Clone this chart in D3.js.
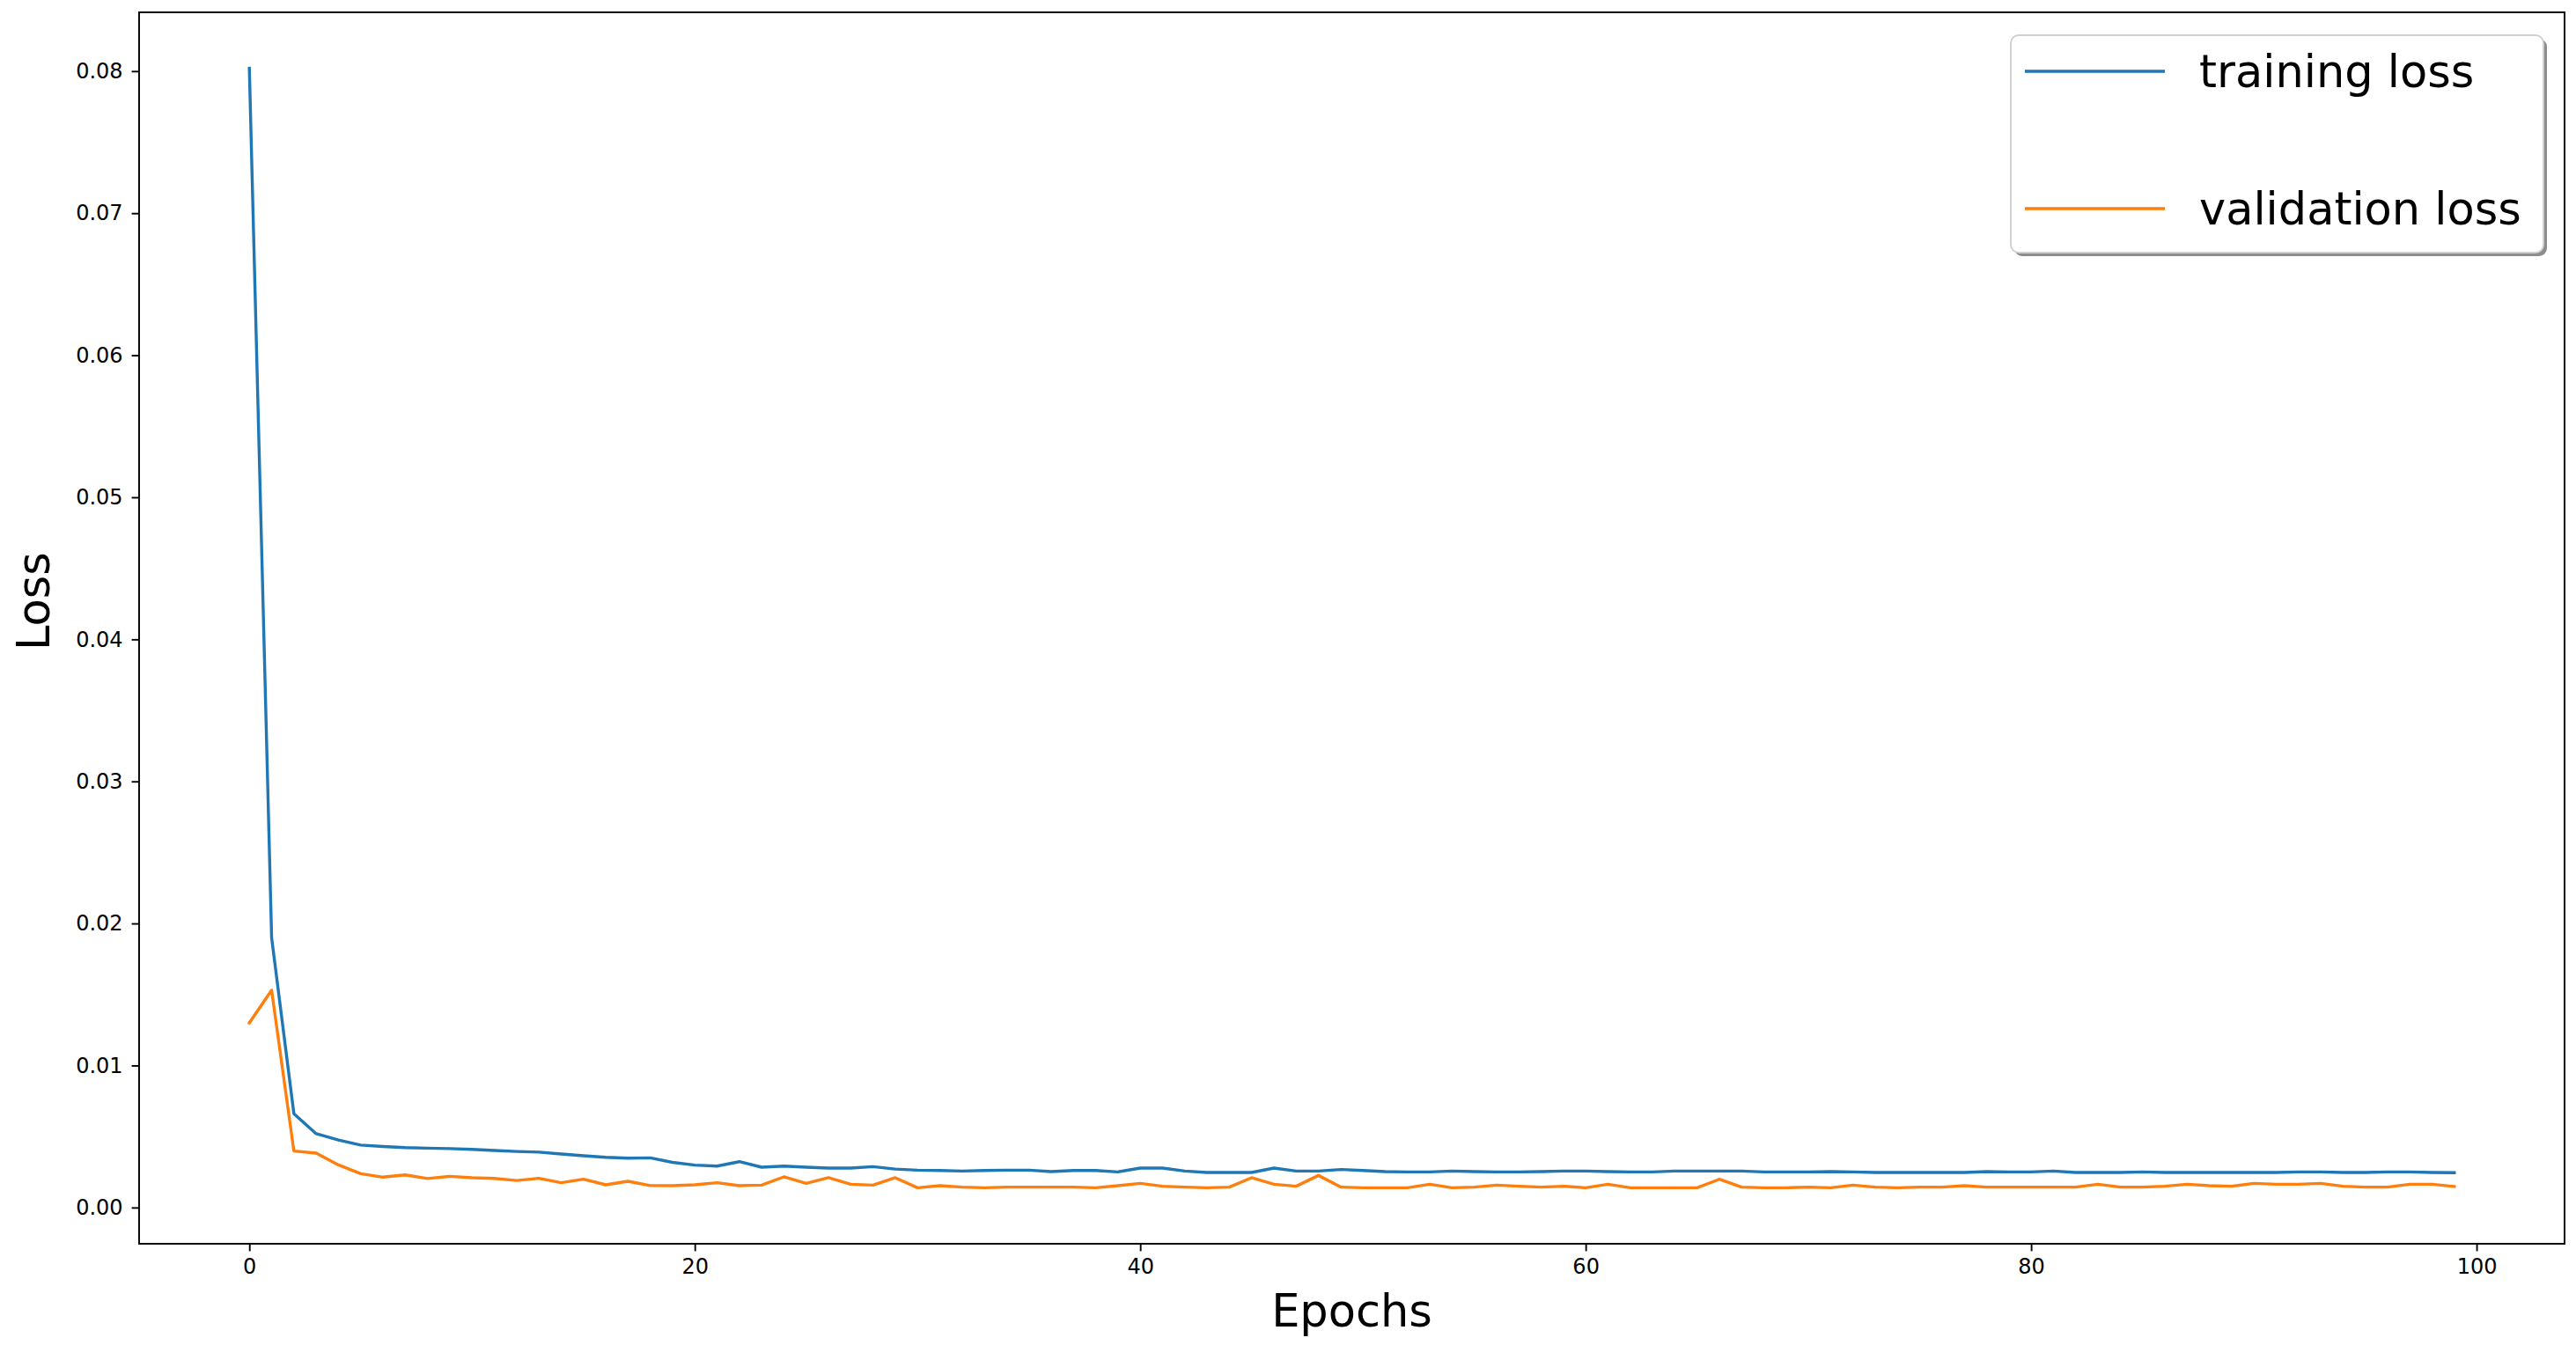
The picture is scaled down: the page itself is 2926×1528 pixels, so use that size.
<!DOCTYPE html>
<html>
<head>
<meta charset="utf-8">
<script src="https://cdn.jsdelivr.net/npm/d3@7"></script>
<style>
    body { margin: 0; background: #ffffff; }
    text { font-family: "DejaVu Sans", sans-serif; fill: #000000; }
</style>
</head>
<body>
<div id="my_dataviz"></div>
<script>
// values, one per epoch
const trainingLoss = [
    0.0802, 0.0190, 0.0066, 0.0052, 0.00475, 0.0044, 0.0043, 0.00422, 0.00418, 0.00415,
    0.0041, 0.00402, 0.00395, 0.0039, 0.00377, 0.00365, 0.00354, 0.00348, 0.0035, 0.00318,
    0.00299, 0.00292, 0.00323, 0.00284, 0.00292, 0.00284, 0.00278, 0.00278, 0.00288, 0.00271,
    0.00263, 0.00261, 0.00257, 0.00261, 0.00263, 0.00263, 0.00253, 0.00261, 0.00261, 0.00251,
    0.00278, 0.00278, 0.00257, 0.00247, 0.00247, 0.00247, 0.00278, 0.00257, 0.00257, 0.00268,
    0.00261, 0.00253, 0.00251, 0.00251, 0.00257, 0.00253, 0.00251, 0.00251, 0.00253, 0.00257,
    0.00257, 0.00253, 0.00251, 0.00251, 0.00257, 0.00257, 0.00257, 0.00257, 0.00251, 0.00251,
    0.00251, 0.00253, 0.00251, 0.00247, 0.00247, 0.00247, 0.00247, 0.00247, 0.00253, 0.00251,
    0.00251, 0.00257, 0.00247, 0.00247, 0.00247, 0.00251, 0.00247, 0.00247, 0.00247, 0.00247,
    0.00247, 0.00247, 0.00251, 0.00251, 0.00247, 0.00247, 0.00251, 0.00251, 0.00247, 0.00245
]

const validationLoss = [
    0.0130, 0.0153, 0.00398, 0.00383, 0.0030, 0.00238, 0.00214, 0.0023, 0.00204, 0.0022,
    0.0021, 0.00205, 0.0019, 0.00206, 0.00175, 0.0020, 0.0016, 0.00185, 0.00155, 0.00154,
    0.0016, 0.00175, 0.00154, 0.00158, 0.00216, 0.0017, 0.0021, 0.00164, 0.00158, 0.0021,
    0.00139, 0.00154, 0.00144, 0.00139, 0.00144, 0.00144, 0.00144, 0.00144, 0.00139, 0.00154,
    0.0017, 0.0015, 0.00144, 0.00139, 0.00144, 0.0021, 0.00164, 0.0015, 0.00226, 0.00144,
    0.00139, 0.00139, 0.00139, 0.00164, 0.00139, 0.00144, 0.00158, 0.0015, 0.00144, 0.0015,
    0.00139, 0.00164, 0.00139, 0.00139, 0.00139, 0.00139, 0.00199, 0.00144, 0.00139, 0.00139,
    0.00144, 0.00139, 0.00158, 0.00144, 0.00139, 0.00144, 0.00144, 0.00154, 0.00144, 0.00144,
    0.00144, 0.00144, 0.00144, 0.00164, 0.00144, 0.00144, 0.0015, 0.00164, 0.00154, 0.0015,
    0.0017, 0.00164, 0.00164, 0.0017, 0.0015, 0.00144, 0.00144, 0.00164, 0.00164, 0.00148
]

const epochs = d3.range(trainingLoss.length)

const seriesNames = ["training loss", "validation loss"]
const seriesColors = ["#1f77b4", "#ff7f0e"]

const xTicks = [0, 20, 40, 60, 80, 100]
const yTicks = [0, 0.01, 0.02, 0.03, 0.04, 0.05, 0.06, 0.07, 0.08]

const xLabel = "Epochs"
const yLabel = "Loss"

// figure geometry (pixels)
const width = 2926,
    height = 1528,
    margin = {top: 14, right: 13, bottom: 115, left: 158}

const svg = d3.select("#my_dataviz")
    .append("svg")
    .attr("width", width)
    .attr("height", height)

// matplotlib style 5% padding around the data
const pad = (lo, hi) => [lo - (hi - lo) * 0.05, hi + (hi - lo) * 0.05]
const allValues = [...trainingLoss, ...validationLoss]

const x = d3.scaleLinear()
    .domain(pad(d3.min(epochs), d3.max(epochs)))
    .range([margin.left, width - margin.right])

const y = d3.scaleLinear()
    .domain(pad(d3.min(allValues), d3.max(allValues)))
    .range([height - margin.bottom, margin.top])

const line = d3.line()
    .x((d, i) => x(epochs[i]))
    .y(d => y(d))

// lines
const series = [trainingLoss, validationLoss]
svg.selectAll("path.series")
    .data(series)
    .enter()
    .append("path")
    .attr("class", "series")
    .attr("fill", "none")
    .attr("stroke", (d, i) => seriesColors[i])
    .attr("stroke-width", 3.4)
    .attr("stroke-linejoin", "round")
    .attr("stroke-linecap", "square")
    .attr("d", line)

// axes
const xAxis = svg.append("g")
    .attr("transform", `translate(0,${height - margin.bottom})`)
    .call(d3.axisBottom(x).tickValues(xTicks).tickFormat(d3.format("d")).tickSize(8.4).tickPadding(9))

const yAxis = svg.append("g")
    .attr("transform", `translate(${margin.left},0)`)
    .call(d3.axisLeft(y).tickValues(yTicks).tickFormat(d3.format(".2f")).tickSize(8.4).tickPadding(10))

;[xAxis, yAxis].forEach(axis => {
    axis.select(".domain").remove()
    axis.selectAll(".tick line").attr("stroke", "#000").attr("stroke-width", 1.9)
    axis.selectAll(".tick text")
        .attr("font-family", "DejaVu Sans")
        .attr("font-size", 24)
        .attr("fill", "#000")
})

// frame
svg.append("rect")
    .attr("x", margin.left)
    .attr("y", margin.top)
    .attr("width", width - margin.left - margin.right)
    .attr("height", height - margin.top - margin.bottom)
    .attr("fill", "none")
    .attr("stroke", "#000")
    .attr("stroke-width", 1.9)

// axis labels
svg.append("text")
    .attr("x", (margin.left + width - margin.right) / 2)
    .attr("y", 1507)
    .attr("text-anchor", "middle")
    .attr("font-size", 51)
    .text(xLabel)

svg.append("text")
    .attr("transform", "translate(56,683) rotate(-90)")
    .attr("text-anchor", "middle")
    .attr("font-size", 51)
    .text(yLabel)

// legend
const legend = svg.append("g")
    .attr("transform", "translate(2284,40)")

legend.append("rect")
    .attr("x", 4)
    .attr("y", 4)
    .attr("width", 605)
    .attr("height", 247)
    .attr("rx", 9)
    .attr("fill", "#7f7f7f")
    .attr("opacity", 0.9)

legend.append("rect")
    .attr("width", 605)
    .attr("height", 247)
    .attr("rx", 9)
    .attr("fill", "#ffffff")
    .attr("stroke", "#d0d0d0")
    .attr("stroke-width", 1.9)

const entries = legend.selectAll("g.entry")
    .data(seriesNames)
    .enter()
    .append("g")
    .attr("class", "entry")
    .attr("transform", (d, i) => `translate(0,${41 + i * 156})`)

entries.append("line")
    .attr("x1", 16)
    .attr("x2", 175)
    .attr("stroke", (d, i) => seriesColors[i])
    .attr("stroke-width", 3.4)

entries.append("text")
    .attr("x", 214)
    .attr("y", 18)
    .attr("font-size", 51)
    .text(d => d)
</script>
</body>
</html>
